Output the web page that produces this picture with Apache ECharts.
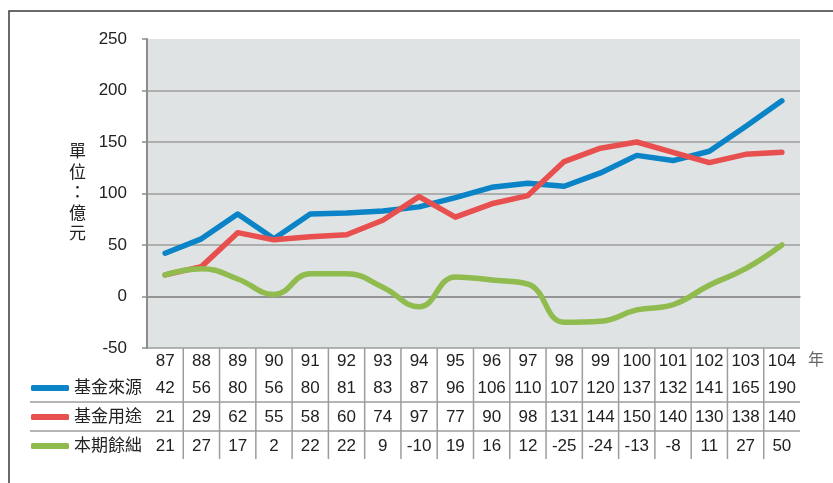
<!DOCTYPE html>
<html>
<head>
<meta charset="utf-8">
<script src="https://cdn.jsdelivr.net/npm/echarts@6/dist/echarts.min.js"></script>
<style>
  html, body { margin: 0; padding: 0; background: #fff; }
  #chart { width: 833px; height: 483px; }
</style>
</head>
<body>
<div id="chart"></div>
<script>
// 年度（民國）
const years = ["87", "88", "89", "90", "91", "92", "93", "94", "95", "96", "97", "98", "99", "100", "101", "102", "103", "104"];
/** 基金來源 */
const fundSource = [42, 56, 80, 56, 80, 81, 83, 87, 96, 106, 110, 107, 120, 137, 132, 141, 165, 190];
/** 基金用途 */
const fundUse = [21, 29, 62, 55, 58, 60, 74, 97, 77, 90, 98, 131, 144, 150, 140, 130, 138, 140];
/** 本期餘絀 */
const balance = [21, 27, 17, 2, 22, 22, 9, -10, 19, 16, 12, -25, -24, -13, -8, 11, 27, 50];
// 表格欄分隔線所在的類別索引
const dividers = years.slice(1).map((_, i) => [i + 1, 0]);

const seriesNames = ["基金來源", "基金用途", "本期餘絀"];
const colors = ["#0a84c6", "#e8504f", "#8fbb4f"];
const font = "'Liberation Sans', 'Noto Sans CJK TC', sans-serif";
const gridLine = "#9c9c9c";

const tableAxis = (data, offset) => ({
  type: "category",
  gridIndex: 0,
  position: "bottom",
  offset,
  data: data.map(String),
  axisLine: { show: false },
  axisTick: { show: false },
  axisLabel: {
    interval: 0,
    margin: 0,
    verticalAlign: "middle",
    fontSize: 17,
    color: "#222",
  },
});

const legendRow = (i, top) => ({
  data: [seriesNames[i]],
  left: 31,
  top,
  padding: 0,
  icon: "roundRect",
  itemWidth: 38,
  itemHeight: 6,
  selectedMode: false,
  textStyle: { fontSize: 17, color: "#222", lineHeight: 20 },
});

const chart = echarts.init(document.getElementById("chart"));
chart.setOption({
  animation: false,
  textStyle: { fontFamily: font },
  color: colors,
  // x 軸單位
  title: {
    text: "年",
    left: 808,
    top: 352,
    padding: 0,
    textStyle: { fontSize: 16, fontWeight: "normal", color: "#666", lineHeight: 18 },
  },
  grid: [
    {
      left: 147, right: 33, top: 39, bottom: 135,
      show: true, backgroundColor: "#e0e3e4", borderWidth: 0,
    },
    { left: 147, right: 33, top: 348, bottom: 24 },
  ],
  legend: [legendRow(0, 378), legendRow(1, 407), legendRow(2, 436)],
  xAxis: [
    {
      type: "category",
      gridIndex: 0,
      data: years,
      axisLine: { lineStyle: { color: "#8c8c8c", width: 1.5 } },
      axisTick: { show: false },
      axisLabel: {
        interval: 0,
        margin: 13,
        verticalAlign: "middle",
        fontSize: 17,
        color: "#222",
      },
    },
    tableAxis(fundSource, 40),
    tableAxis(fundUse, 69),
    tableAxis(balance, 98),
    { type: "category", gridIndex: 1, data: years, show: false },
  ],
  yAxis: [
    {
      type: "value",
      gridIndex: 0,
      min: -50,
      max: 250,
      interval: 50,
      axisLine: { show: true, lineStyle: { color: "#8c8c8c", width: 2 } },
      axisTick: { show: true, length: 5, lineStyle: { color: "#8c8c8c", width: 1.5 } },
      axisLabel: { margin: 20, fontSize: 17, color: "#222" },
      splitLine: {
        show: true,
        showMaxLine: false,
        lineStyle: { color: gridLine, width: 1.5 },
      },
      name: "單\n位\n：\n億\n元",
      nameLocation: "middle",
      nameGap: 61,
      nameRotate: 0,
      nameMoveOverlap: false,
      nameTextStyle: { fontSize: 17, lineHeight: 20.5, color: "#222" },
    },
    { type: "value", gridIndex: 1, min: 0, max: 1, show: false },
  ],
  series: [
    {
      name: seriesNames[0], type: "line", data: fundSource,
      showSymbol: false,
      lineStyle: { width: 5.5, cap: "round", join: "round" },
    },
    {
      name: seriesNames[1], type: "line", data: fundUse,
      showSymbol: false,
      lineStyle: { width: 5.5, cap: "round", join: "round" },
    },
    {
      name: seriesNames[2], type: "line", data: balance,
      showSymbol: false, smooth: 0.45,
      lineStyle: { width: 5.5, cap: "round", join: "round" },
    },
    {
      type: "custom",
      xAxisIndex: 4,
      yAxisIndex: 1,
      silent: true,
      data: dividers,
      renderItem: (params, api) => {
        const band = api.size([1, 0])[0];
        const bottom = api.coord([api.value(0), 0]);
        const top = api.coord([api.value(0), 1]);
        const x = bottom[0] - band / 2;
        return {
          type: "line",
          shape: { x1: x, y1: top[1], x2: x, y2: bottom[1] },
          style: { stroke: gridLine, lineWidth: 1.5 },
        };
      },
    },
  ],
  graphic: [
    {
      type: "polyline",
      shape: { points: [[9, 483], [9, 11], [833, 11]] },
      style: { stroke: "#3a3a3a", lineWidth: 1.5, fill: null },
      silent: true,
    },
    {
      type: "line",
      shape: { x1: 30, y1: 402, x2: 800, y2: 402 },
      style: { stroke: gridLine, lineWidth: 1.5 },
      silent: true,
    },
    {
      type: "line",
      shape: { x1: 30, y1: 431, x2: 800, y2: 431 },
      style: { stroke: gridLine, lineWidth: 1.5 },
      silent: true,
    },
  ],
});
</script>
</body>
</html>
